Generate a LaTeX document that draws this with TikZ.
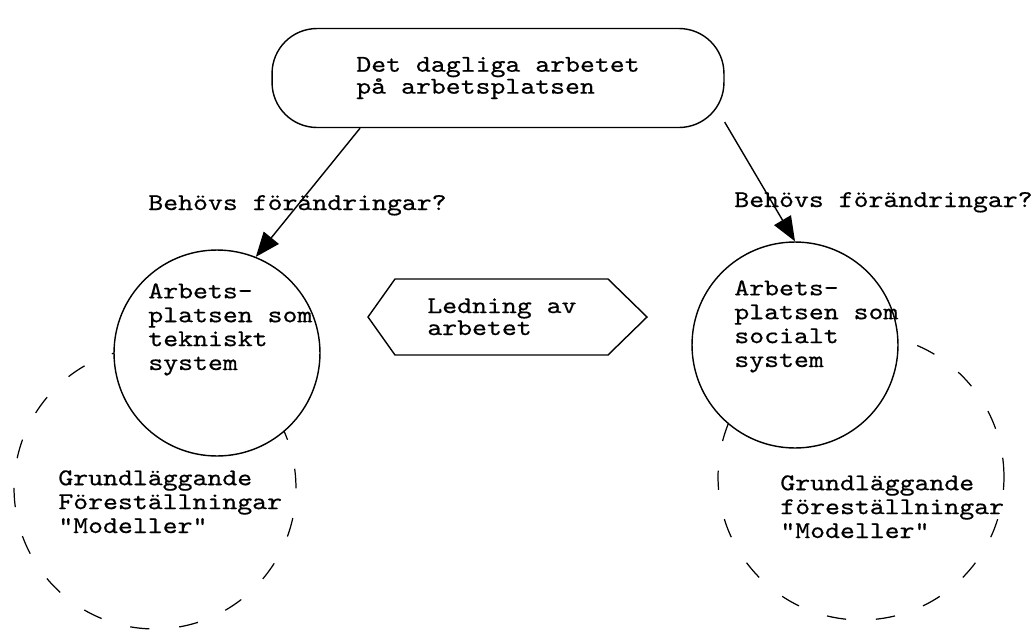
\documentclass[tikz,border=0pt]{standalone}
\usepackage{fontspec}
\newfontfamily\typewr[FakeStretch=1.18,FakeBold=0.5]{lmmono10-regular.otf}
\usetikzlibrary{arrows.meta}
\newcommand{\tw}{\typewr\fontsize{13.7}{13.6}\selectfont}
\newcommand{\twtight}{\typewr\fontsize{13.7}{12.5}\selectfont}

\begin{document}
\begin{tikzpicture}[x=0.02cm,y=-0.02cm,
    txt/.style={font=\tw,align=left,inner sep=0pt,anchor=base west},
    sys/.style={circle,draw,fill=white,line width=0.8pt,minimum size=4.12cm,inner sep=0pt},
    arr/.style={-{Triangle[length=14pt,width=11pt]},line width=0.8pt},
    grund/.style={line width=0.7pt,dash pattern=on 11pt off 17pt}]
  \useasboundingbox (0,0) rectangle (1034,629);

  \draw[grund] (155,488) circle[radius=2.82cm];
  \draw[grund] (861,477) circle[radius=2.86cm];

  \node[draw,line width=0.8pt,rounded corners=0.9cm,minimum width=9.04cm,minimum height=1.98cm,
        font=\twtight,align=left] (dag) at (498,78) {Det dagliga arbetet\\på arbetsplatsen};
  \node[sys] (tek) at (217,353) {};
  \node[sys] (soc) at (795,345) {};

  \draw[arr] (dag.200) -- (tek.68);
  \draw[arr] (dag.349) -- (soc.north);

  \draw[line width=0.8pt] (368,317) -- (395,279) -- (608,279) -- (647,317) -- (608,355) -- (395,355) -- cycle;

  % multi-line texts are placed by the baseline of their last line
  \node[txt] (fragav) at (148,210) {Behövs förändringar?};
  \node[txt] (fraghog) at (734,207) {Behövs förändringar?};
  \node[txt] (tektxt) at (148,370) {Arbets-\\platsen som\\tekniskt\\system};
  \node[txt] (soctxt) at (734,367) {Arbets-\\platsen som\\socialt\\system};
  \node[txt,font=\twtight] (ledning) at (427,335) {Ledning av\\arbetet};
  \node[txt] (grundv) at (58,533) {Grundläggande\\Föreställningar\\"Modeller"};
  \node[txt] (grundh) at (780,538) {Grundläggande\\föreställningar\\"Modeller"};
\end{tikzpicture}
\end{document}
